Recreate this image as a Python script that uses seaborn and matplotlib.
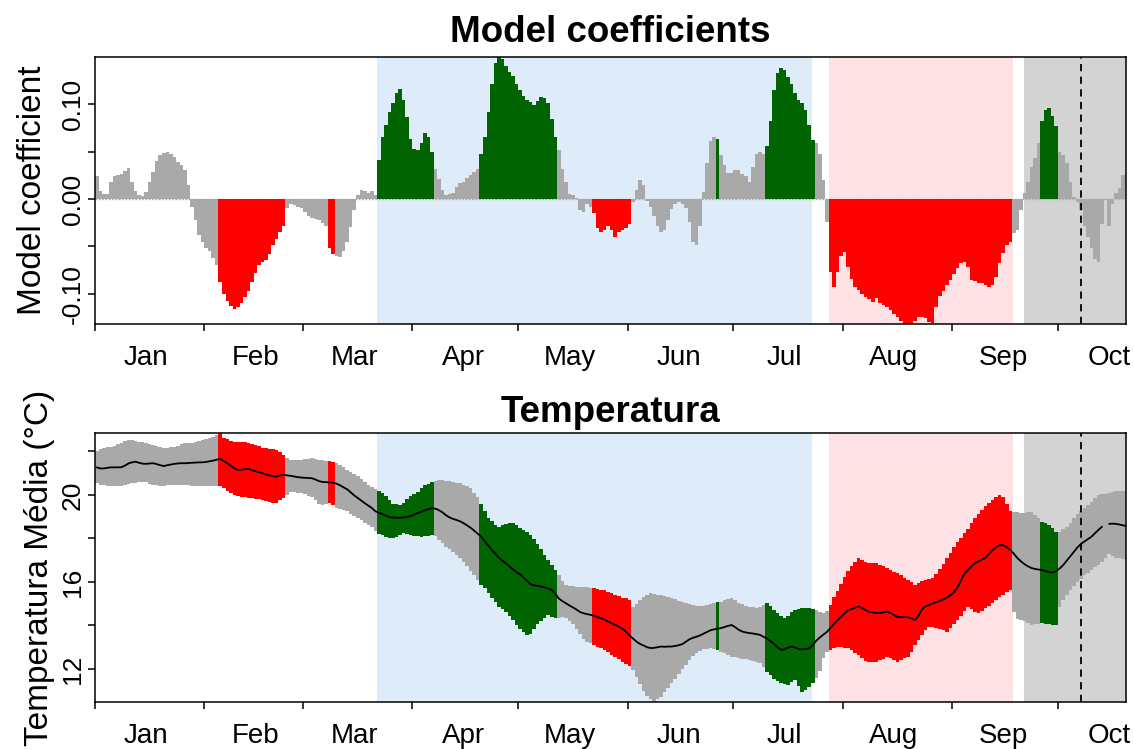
import numpy as np
import pandas as pd
import matplotlib
matplotlib.use("Agg")
import matplotlib.pyplot as plt
import seaborn as sns

# ---------------- data ----------------
months = ["Jan", "Feb", "Mar", "Apr", "May", "Jun", "Jul", "Aug", "Sep", "Oct"]
month_start_day = [0, 31, 59, 90, 120, 151, 181, 212, 243, 273]

# daily model coefficients (day 0 = 1 Jan)
coef = [
    0.024, 0.008, 0.005, 0.005, 0.018, 0.024, 0.025, 0.026, 0.030, 0.033,
    0.018, 0.009, 0.004, 0.003, 0.007, 0.018, 0.029, 0.040, 0.047, 0.049,
    0.050, 0.048, 0.044, 0.039, 0.036, 0.031, 0.015, -0.008, -0.022, -0.038,
    -0.045, -0.052, -0.055, -0.062, -0.070, -0.088, -0.100, -0.108, -0.113, -0.116,
    -0.114, -0.110, -0.104, -0.097, -0.088, -0.078, -0.070, -0.066, -0.064, -0.058,
    -0.049, -0.042, -0.035, -0.028, -0.010, -0.005, -0.006, -0.008, -0.010, -0.014,
    -0.018, -0.020, -0.021, -0.022, -0.025, -0.028, -0.052, -0.058, -0.060, -0.061,
    -0.055, -0.045, -0.030, -0.012, 0.004, 0.010, 0.009, 0.006, 0.008, 0.004,
    0.041, 0.065, 0.078, 0.092, 0.101, 0.112, 0.116, 0.105, 0.087, 0.063,
    0.053, 0.052, 0.059, 0.070, 0.066, 0.050, 0.032, 0.021, 0.010, 0.004,
    0.005, 0.006, 0.013, 0.017, 0.018, 0.022, 0.025, 0.029, 0.032, 0.048,
    0.065, 0.092, 0.122, 0.144, 0.151, 0.148, 0.141, 0.134, 0.130, 0.122,
    0.115, 0.109, 0.105, 0.102, 0.099, 0.103, 0.108, 0.107, 0.101, 0.084,
    0.066, 0.052, 0.032, 0.018, 0.005, 0.004, 0.001, -0.012, -0.014, -0.005,
    -0.008, -0.015, -0.031, -0.035, -0.033, -0.029, -0.033, -0.040, -0.035, -0.033,
    -0.031, -0.026, -0.003, 0.010, 0.020, 0.015, -0.002, -0.008, -0.018, -0.028,
    -0.035, -0.033, -0.022, -0.011, -0.005, -0.003, -0.005, -0.009, -0.024, -0.045,
    -0.049, -0.029, 0.007, 0.038, 0.061, 0.065, 0.063, 0.047, 0.036, 0.028,
    0.027, 0.031, 0.031, 0.026, 0.024, 0.018, 0.034, 0.048, 0.050, 0.048,
    0.056, 0.082, 0.115, 0.133, 0.138, 0.136, 0.129, 0.121, 0.112, 0.105,
    0.101, 0.094, 0.078, 0.062, 0.059, 0.048, 0.020, -0.024, -0.077, -0.093,
    -0.077, -0.060, -0.056, -0.072, -0.084, -0.093, -0.096, -0.100, -0.103, -0.106,
    -0.109, -0.105, -0.110, -0.112, -0.114, -0.117, -0.121, -0.125, -0.129, -0.132,
    -0.135, -0.132, -0.129, -0.125, -0.125, -0.126, -0.130, -0.131, -0.114, -0.102,
    -0.097, -0.091, -0.085, -0.079, -0.073, -0.068, -0.066, -0.072, -0.085, -0.087,
    -0.089, -0.089, -0.091, -0.093, -0.091, -0.082, -0.068, -0.057, -0.049, -0.045,
    -0.036, -0.033, -0.012, 0.006, 0.018, 0.034, 0.043, 0.059, 0.082, 0.094,
    0.096, 0.088, 0.077, 0.050, 0.047, 0.038, 0.018, 0.002, -0.003, -0.012,
    -0.028, -0.040, -0.052, -0.063, -0.066, -0.026, -0.001, -0.029, -0.005, 0.006,
    0.012, 0.025, 0.027,
]

temp_mean = [
    21.27, 21.22, 21.22, 21.25, 21.27, 21.27, 21.27, 21.28, 21.35, 21.45,
    21.50, 21.53, 21.48, 21.44, 21.43, 21.45, 21.46, 21.42, 21.37, 21.33,
    21.37, 21.40, 21.43, 21.45, 21.46, 21.46, 21.47, 21.48, 21.49, 21.50,
    21.50, 21.52, 21.55, 21.58, 21.62, 21.66, 21.56, 21.46, 21.35, 21.22,
    21.15, 21.16, 21.19, 21.20, 21.14, 21.09, 21.05, 21.00, 20.94, 20.90,
    20.86, 20.84, 20.90, 20.92, 20.90, 20.88, 20.85, 20.82, 20.80, 20.79,
    20.78, 20.77, 20.71, 20.64, 20.60, 20.59, 20.58, 20.56, 20.52, 20.44,
    20.35, 20.26, 20.12, 19.98, 19.86, 19.74, 19.62, 19.51, 19.40, 19.25,
    19.18, 19.12, 19.05, 18.98, 18.96, 18.95, 18.95, 18.97, 18.99, 19.03,
    19.10, 19.17, 19.23, 19.29, 19.35, 19.39, 19.37, 19.30, 19.20, 19.07,
    18.97, 18.90, 18.85, 18.79, 18.70, 18.60, 18.49, 18.36, 18.22, 18.08,
    17.88, 17.67, 17.47, 17.30, 17.12, 16.98, 16.85, 16.72, 16.58, 16.45,
    16.35, 16.20, 16.05, 15.90, 15.84, 15.82, 15.79, 15.75, 15.70, 15.63,
    15.45, 15.24, 15.12, 15.02, 14.92, 14.83, 14.73, 14.62, 14.56, 14.52,
    14.49, 14.44, 14.38, 14.33, 14.26, 14.18, 14.10, 14.03, 13.94, 13.85,
    13.72, 13.55, 13.40, 13.26, 13.15, 13.08, 13.00, 12.96, 12.97, 13.00,
    13.03, 13.02, 13.03, 13.03, 13.06, 13.09, 13.14, 13.25, 13.36, 13.43,
    13.48, 13.54, 13.62, 13.70, 13.78, 13.82, 13.85, 13.88, 13.93, 13.98,
    14.02, 13.92, 13.80, 13.72, 13.68, 13.65, 13.63, 13.60, 13.57, 13.48,
    13.40, 13.28, 13.15, 13.00, 12.88, 12.90, 12.98, 13.03, 12.98, 12.92,
    12.90, 12.92, 12.95, 13.10, 13.30, 13.45, 13.58, 13.70, 13.88, 14.07,
    14.24, 14.40, 14.55, 14.70, 14.75, 14.82, 14.87, 14.80, 14.70, 14.63,
    14.60, 14.57, 14.57, 14.60, 14.64, 14.58, 14.48, 14.39, 14.38, 14.38,
    14.38, 14.32, 14.25, 14.45, 14.75, 14.88, 14.94, 15.02, 15.07, 15.13,
    15.20, 15.28, 15.38, 15.52, 15.75, 16.05, 16.38, 16.55, 16.72, 16.86,
    16.95, 17.03, 17.12, 17.30, 17.47, 17.60, 17.70, 17.68, 17.60, 17.47,
    17.30, 17.10, 16.95, 16.82, 16.72, 16.64, 16.60, 16.57, 16.55, 16.50,
    16.45, 16.43, 16.50, 16.62, 16.78, 16.98, 17.18, 17.38, 17.58, 17.75,
    17.86, 17.97, 18.08, 18.24, 18.40, 18.54, 18.62, 18.67, 18.68, 18.67,
    18.64, 18.60, 18.57,
]

temp_upper = [
    22.04, 22.12, 22.17, 22.20, 22.22, 22.27, 22.33, 22.38, 22.46, 22.53,
    22.52, 22.49, 22.45, 22.42, 22.38, 22.35, 22.31, 22.27, 22.21, 22.16,
    22.17, 22.20, 22.22, 22.27, 22.33, 22.38, 22.39, 22.40, 22.42, 22.46,
    22.51, 22.56, 22.61, 22.66, 22.75, 22.84, 22.62, 22.56, 22.50, 22.45,
    22.45, 22.45, 22.45, 22.40, 22.35, 22.29, 22.23, 22.17, 22.14, 22.12,
    22.10, 22.06, 21.97, 21.86, 21.72, 21.62, 21.61, 21.61, 21.61, 21.64,
    21.67, 21.69, 21.66, 21.63, 21.60, 21.57, 21.54, 21.50, 21.47, 21.37,
    21.27, 21.17, 21.06, 20.97, 20.86, 20.72, 20.59, 20.46, 20.38, 20.26,
    20.18, 20.10, 19.97, 19.75, 19.60, 19.57, 19.54, 19.64, 19.80, 19.93,
    20.03, 20.14, 20.31, 20.45, 20.52, 20.59, 20.64, 20.67, 20.69, 20.66,
    20.62, 20.60, 20.57, 20.55, 20.48, 20.40, 20.33, 20.10, 19.90, 19.60,
    19.27, 18.95, 18.80, 18.60, 18.55, 18.60, 18.67, 18.70, 18.70, 18.60,
    18.50, 18.40, 18.30, 18.15, 17.97, 17.75, 17.50, 17.26, 17.01, 16.78,
    16.55, 16.30, 16.05, 15.85, 15.82, 15.80, 15.79, 15.79, 15.79, 15.76,
    15.73, 15.71, 15.68, 15.65, 15.63, 15.56, 15.48, 15.40, 15.35, 15.28,
    15.25, 15.15, 14.85, 15.00, 15.17, 15.30, 15.42, 15.48, 15.45, 15.42,
    15.40, 15.35, 15.30, 15.25, 15.20, 15.14, 15.08, 15.03, 14.97, 14.93,
    14.90, 14.88, 14.90, 14.95, 14.98, 15.03, 15.06, 15.10, 15.15, 15.20,
    15.25, 15.15, 15.02, 14.97, 14.90, 14.85, 14.83, 14.80, 14.85, 14.95,
    15.02, 14.90, 14.72, 14.58, 14.44, 14.33, 14.45, 14.60, 14.71, 14.75,
    14.79, 14.79, 14.78, 14.76, 14.70, 14.63, 14.56, 14.65, 14.95, 15.30,
    15.60, 15.90, 16.22, 16.52, 16.72, 16.92, 17.09, 17.00, 16.90, 16.86,
    16.86, 16.86, 16.80, 16.72, 16.64, 16.56, 16.48, 16.41, 16.30, 16.20,
    16.09, 15.98, 15.87, 15.95, 16.05, 16.10, 16.13, 16.16, 16.35, 16.60,
    16.82, 17.10, 17.35, 17.60, 17.82, 18.03, 18.23, 18.45, 18.70, 18.93,
    19.12, 19.30, 19.50, 19.65, 19.78, 19.90, 19.98, 19.90, 19.60, 19.28,
    19.22, 19.20, 19.17, 19.18, 19.20, 19.23, 19.10, 18.95, 18.78, 18.70,
    18.64, 18.50, 18.30, 18.30, 18.45, 18.54, 18.70, 18.92, 19.14, 19.28,
    19.41, 19.53, 19.70, 19.86, 20.00, 20.03, 20.06, 20.10, 20.14, 20.18,
    20.20, 20.18, 20.15,
]

temp_lower = [
    20.54, 20.48, 20.44, 20.42, 20.41, 20.41, 20.41, 20.41, 20.45, 20.50,
    20.53, 20.55, 20.58, 20.61, 20.58, 20.52, 20.47, 20.44, 20.42, 20.41,
    20.44, 20.45, 20.46, 20.46, 20.46, 20.46, 20.44, 20.42, 20.41, 20.41,
    20.41, 20.41, 20.41, 20.41, 20.41, 20.41, 20.30, 20.18, 20.07, 20.00,
    19.96, 19.92, 19.89, 19.88, 19.86, 19.83, 19.80, 19.78, 19.74, 19.69,
    19.64, 19.63, 19.75, 19.88, 20.02, 20.14, 20.12, 20.10, 20.08, 20.03,
    19.97, 19.92, 19.78, 19.60, 19.54, 19.58, 19.62, 19.55, 19.42, 19.34,
    19.30, 19.25, 19.14, 19.05, 18.95, 18.84, 18.72, 18.62, 18.54, 18.35,
    18.22, 18.15, 18.08, 18.03, 18.00, 18.05, 18.18, 18.24, 18.20, 18.16,
    18.13, 18.10, 18.08, 18.10, 18.13, 18.16, 18.10, 17.95, 17.78, 17.60,
    17.50, 17.38, 17.26, 17.08, 16.90, 16.75, 16.50, 16.30, 16.10, 15.88,
    15.70, 15.50, 15.28, 15.06, 14.85, 14.75, 14.63, 14.45, 14.25, 14.03,
    13.85, 13.70, 13.58, 13.60, 13.85, 14.08, 14.22, 14.36, 14.47, 14.40,
    14.34, 14.36, 14.40, 14.35, 14.20, 14.06, 13.85, 13.60, 13.38, 13.25,
    13.18, 13.10, 13.02, 12.95, 12.88, 12.76, 12.66, 12.56, 12.45, 12.30,
    12.22, 12.12, 11.95, 11.62, 11.30, 11.00, 10.75, 10.60, 10.50, 10.60,
    10.73, 10.93, 11.14, 11.34, 11.55, 11.78, 11.98, 12.18, 12.40, 12.58,
    12.72, 12.84, 12.90, 12.93, 12.95, 12.90, 12.85, 12.80, 12.72, 12.63,
    12.56, 12.54, 12.51, 12.48, 12.45, 12.42, 12.38, 12.33, 12.27, 12.10,
    11.85, 11.70, 11.55, 11.43, 11.37, 11.30, 11.27, 11.38, 11.49, 11.20,
    10.96, 11.05, 11.19, 11.35, 11.60, 11.90, 12.50, 12.78, 12.85, 12.95,
    13.03, 13.01, 12.98, 12.95, 12.85, 12.74, 12.64, 12.50, 12.38, 12.34,
    12.34, 12.34, 12.40, 12.48, 12.55, 12.50, 12.42, 12.34, 12.40, 12.50,
    12.56, 12.80, 13.08, 13.33, 13.55, 13.80, 13.95, 13.92, 13.88, 13.83,
    13.77, 13.72, 13.90, 14.08, 14.25, 14.45, 14.66, 14.87, 14.75, 14.62,
    14.56, 14.66, 14.78, 14.90, 15.02, 15.15, 15.30, 15.42, 15.52, 15.63,
    14.60, 14.30, 14.25, 14.20, 14.12, 14.03, 14.05, 14.08, 14.10, 14.07,
    14.05, 14.02, 14.02, 14.85, 15.15, 15.38, 15.62, 15.82, 16.00, 16.15,
    16.30, 16.42, 16.55, 16.68, 16.80, 16.93, 17.12, 17.30, 17.20, 17.12,
    17.08, 17.04, 17.01,
]

# significance runs: run i covers days [signif_breaks[i], signif_breaks[i+1])
signif_breaks = [0, 35, 54, 66, 68, 80, 96, 109, 131, 141, 152, 176, 177,
                 190, 204, 208, 260, 268, 273, 293]
signif_labels = ["ns", "neg", "ns", "neg", "ns", "pos", "ns", "pos", "ns", "neg",
                 "ns", "pos", "ns", "pos", "ns", "neg", "ns", "pos", "ns"]

# shaded periods (day numbers)
period_start = [80.0, 208.2, 263.3]
period_end = [203.2, 260.4, 293.0]
period_colors = ["#DEECF9", "#FDE1E4", "#D3D3D3"]
reference_day = 279.5
mean_gap_day = 286

# ---------------- styling ----------------
sns.set_style("ticks")
plt.rcParams["font.family"] = ["Liberation Sans", "DejaVu Sans"]
plt.rcParams["axes.linewidth"] = 1.1
plt.rcParams["axes.edgecolor"] = "black"
for key in ("text.color", "axes.labelcolor", "xtick.color", "ytick.color",
            "axes.titlecolor"):
    plt.rcParams[key] = "black"

palette = {"ns": "#A9A9A9", "neg": "#FF0000", "pos": "#006400"}

n_days = len(coef)
day = np.arange(n_days)
run_len = np.diff(signif_breaks)
signif = np.repeat(signif_labels, run_len)

df = pd.DataFrame({
    "day": day + 0.5,
    "coef": coef,
    "signif": signif,
    "lower": temp_lower,
    "upper": temp_upper,
    "mean": temp_mean,
})
df["segment"] = np.where(df.index < mean_gap_day, 0, 1)
line_df = df[df.index != mean_gap_day]

W, H = 1134, 749
fig = plt.figure(figsize=(W / 100, H / 100), dpi=100)
ax1 = fig.add_axes([95 / W, 1 - 324 / H, 1031 / W, 267 / H])
ax2 = fig.add_axes([95 / W, 1 - 702 / H, 1031 / W, 269 / H])

for ax in (ax1, ax2):
    for s, e, c in zip(period_start, period_end, period_colors):
        ax.axvspan(s, e, color=c, lw=0, zorder=0)

# --- top: coefficients ---
sns.barplot(data=df, x="day", y="coef", hue="signif", palette=palette,
            native_scale=True, width=1.0, dodge=False, errorbar=None,
            legend=False, linewidth=0, saturation=1, ax=ax1, zorder=2)
ax1.axhline(0, color="#A9A9A9", lw=1.0, ls=(0, (1.2, 1.2)), zorder=1.5)

# --- bottom: temperature ranges + mean ---
ax2.bar(df["day"], df["upper"] - df["lower"], bottom=df["lower"], width=1.0,
        color=df["signif"].map(palette), linewidth=0, zorder=2)
sns.lineplot(data=line_df, x="day", y="mean", units="segment", estimator=None,
             color="black", linewidth=1.3, ax=ax2, legend=False, zorder=4)

mid_month = [m + 14.5 for m in month_start_day]
for ax in (ax1, ax2):
    ax.axvline(reference_day, color="black", lw=1.3, ls=(0, (4, 3)), zorder=3)
    ax.set_xlim(0, 292.3)
    ax.set_xticks(month_start_day)
    ax.set_xticklabels([""] * len(month_start_day))
    ax.set_xticks(mid_month, minor=True)
    ax.set_xticklabels(months, minor=True)
    ax.tick_params(axis="x", which="major", length=5, width=1.1, direction="out")
    ax.tick_params(axis="x", which="minor", length=0, labelsize=20, pad=15)
    ax.tick_params(axis="y", which="both", length=5, width=1.1, direction="out",
                   labelsize=19, pad=2.5, labelrotation=90)
    ax.set_xlabel("")
    for sp in ax.spines.values():
        sp.set_visible(True)
        sp.set_linewidth(1.1)
        sp.set_zorder(5)

ax1.set_ylim(-0.132, 0.150)
ax1.set_yticks([-0.10, 0.0, 0.10])
ax1.set_yticklabels(["-0.10", "0.00", "0.10"])
ax1.set_yticks([-0.05, 0.05], minor=True)

ax2.set_ylim(10.48, 22.85)
ax2.set_yticks([12, 16, 20])
ax2.set_yticklabels(["12", "16", "20"])
ax2.set_yticks([14, 18, 22], minor=True)

for ax in (ax1, ax2):
    for lab in ax.get_yticklabels():
        lab.set_va("center")

ax1.set_title("Model coefficients", fontsize=26.5, fontweight="bold", pad=10.5)
ax2.set_title("Temperatura", fontsize=26.5, fontweight="bold", pad=8)

ax1.set_ylabel("Model coefficient", fontsize=24)
ax1.yaxis.set_label_coords(-0.0456, 0.5)
ax2.set_ylabel("Temperatura Média (°C)", fontsize=24)
ax2.yaxis.set_label_coords(-0.0388, 0.5)

fig.savefig("out.png", dpi=100)
